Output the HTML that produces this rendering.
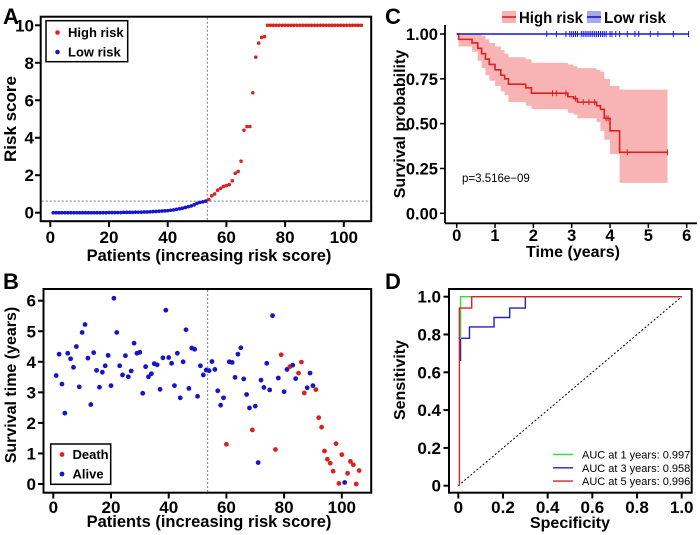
<!DOCTYPE html>
<html><head><meta charset="utf-8"><style>
html,body{margin:0;padding:0;background:#fff;}
svg{display:block;font-family:"Liberation Sans",Arial,sans-serif;}
.b{font-weight:bold;}
</style></head><body>
<svg id="fig" width="700" height="535" viewBox="0 0 700 535" xmlns="http://www.w3.org/2000/svg"></svg>
<script>
// ---------- Panel A data ----------
const riskLow = [0,0,0,0,0,0,0,0,0,0,0,0,0,0,0,0,0,0,0,0.01,0.01,0.01,0.01,0.01,0.02,0.02,0.02,0.02,0.03,0.03,0.03,0.04,0.04,0.05,0.06,0.07,0.08,0.09,0.1,0.11,0.13,0.15,0.18,0.21,0.24,0.28,0.32,0.36,0.42,0.5,0.55,0.58,0.62];
const riskHigh = [0.7,0.9,1.0,1.2,1.3,1.4,1.45,1.5,1.7,2.1,2.2,2.75,4.4,4.6,4.6,6.4,8.3,9.05,9.35,9.4,10,10,10,10,10,10,10,10,10,10,10,10,10,10,10,10,10,10,10,10,10,10,10,10,10,10,10,10,10,10,10,10,10];
const riskCutoff = 0.62;
const aXTicks = [0,20,40,60,80,100];
const aYTicks = [0,2,4,6,8,10];
// ---------- Panel B data ----------
const survTime = [3.55,4.25,3.27,2.32,4.28,4.1,3.82,4.5,3.18,4.96,5.22,4.12,2.6,4.3,3.72,3.17,3.66,3.87,4.21,3.22,6.08,4.96,3.87,3.57,4.2,3.51,3.7,4.61,4.28,4.31,2.97,3.84,3.51,3.61,3.94,3.9,3.1,4.13,5.69,4.14,3.95,3.22,4.28,2.82,4.0,5.05,3.13,4.45,4.41,2.87,3.87,3.57,3.73,3.71,4.01,3.75,3.05,2.58,2.82,1.3,4.0,3.98,3.49,4.25,4.46,3.44,2.93,2.49,1.77,2.55,0.7,3.4,3.16,3.95,3.08,5.51,1.13,3.47,4.23,3.02,3.75,3.84,3.89,3.45,3.63,3.99,2.98,3.15,3.63,3.22,3.09,2.17,1.86,1.08,0.81,0.68,0.42,1.32,0.02,0.96,0.05,0.35,0.74,0.63,0.0,0.44];
const survDead = [0,0,0,0,0,0,0,0,0,0,0,0,0,0,0,0,0,0,0,0,0,0,0,0,0,0,0,0,0,0,0,0,0,0,0,0,0,0,0,0,0,0,0,0,0,0,0,0,0,0,0,0,0,0,0,0,0,0,0,1,0,0,0,0,0,0,0,0,1,0,0,0,0,0,0,0,1,0,1,0,0,1,0,0,1,1,1,0,0,0,1,1,1,1,1,1,1,1,1,1,0,1,1,1,1,1];
const bXTicks = [0,20,40,60,80,100];
const bYTicks = [0,1,2,3,4,5,6];
// ---------- Panel C data ----------
const kmTime =  [0,0.05,0.4,0.55,0.65,0.75,0.85,1.0,1.15,1.25,1.35,1.8,1.95,2.9,3.05,3.15,3.65,3.75,3.85,4.0,4.25];
const kmSurv =  [1,0.97,0.95,0.92,0.89,0.86,0.83,0.80,0.77,0.75,0.72,0.70,0.67,0.65,0.64,0.62,0.60,0.58,0.53,0.46,0.34];
const kmUpper = [1,1,1,1,0.99,0.97,0.95,0.93,0.91,0.89,0.87,0.86,0.84,0.83,0.82,0.81,0.80,0.79,0.75,0.71,0.69];
const kmLower = [1,0.93,0.90,0.85,0.81,0.77,0.74,0.71,0.68,0.66,0.62,0.60,0.58,0.56,0.55,0.53,0.51,0.46,0.41,0.33,0.17];
const kmEnd = 5.5;
const highCensor = [2.5,2.6,2.85,3.1,3.3,3.45,3.6,3.9,3.95,4.45,5.5];
const lowCensor = [2.35,2.6,2.85,2.95,3.0,3.05,3.1,3.15,3.25,3.3,3.35,3.4,3.45,3.5,3.55,3.6,3.65,3.7,3.75,3.8,3.85,3.9,4.0,4.05,4.15,4.25,4.45,4.65,4.75,5.05,5.25,5.65,6.05];
const lowEnd = 6.05;
const cXTicks = [0,1,2,3,4,5,6];
const cYTicks = [0,0.25,0.5,0.75,1];
// ---------- Panel D data ----------
const roc1X = [0,0.01,0.01,0.065,1];
const roc1Y = [0.78,0.78,1,1,1];
const roc3X = [0.01,0.01,0.05,0.05,0.16,0.16,0.23,0.23,0.30,0.30,1];
const roc3Y = [0.66,0.78,0.78,0.84,0.84,0.89,0.89,0.94,0.94,1,1];
const roc5X = [0.005,0.005,0.06,0.06,1];
const roc5Y = [0,0.94,0.94,1,1];
const rocLabels = ["AUC at 1 years: 0.997","AUC at 3 years: 0.958","AUC at 5 years: 0.996"];
const rocColors = ["#33dd33","#2020cc","#dd2020"];
const dTicks = [0,0.2,0.4,0.6,0.8,1.0];

const NS="http://www.w3.org/2000/svg";
const fig=document.getElementById('fig');
function mk(tag,attrs,parent,text){const e=document.createElementNS(NS,tag);for(const k in attrs)e.setAttribute(k,attrs[k]);if(text!==undefined)e.textContent=text;(parent||fig).appendChild(e);return e;}
function grp(){return mk('g',{});}

// ================= Panel A =================
const ax=p=>50.3+2.935*p, ay=v=>212.7-18.74*v;
let g=grp();


let t=mk('text',{x:3,y:24,'font-size':22,class:'b'},g,'A');


let r=mk('rect',{x:40.7,y:16.7,width:330.5,height:204.5,fill:'none',stroke:'#000','stroke-width':2},g);


aYTicks.forEach(v=>{
  let l=mk('line',{x1:35,x2:40.7,y1:ay(v),y2:ay(v),stroke:'#000','stroke-width':2},g);
  
  
  let tx=mk('text',{x:34,y:ay(v)+6,'font-size':17,'text-anchor':'end',class:'b'},g,String(v));
  
  
});
aXTicks.forEach(v=>{
  let l=mk('line',{x1:ax(v),x2:ax(v),y1:221.2,y2:227,stroke:'#000','stroke-width':2},g);
  
  
  let tx=mk('text',{x:ax(v),y:243,'font-size':17,'text-anchor':'middle',class:'b'},g,String(v));
  
  
});
let cutX=ax(riskLow.length+0.5);
let dl=mk('line',{x1:cutX,x2:cutX,y1:17.7,y2:220.2,stroke:'#777','stroke-width':1,'stroke-dasharray':'2,2'},g);


dl=mk('line',{x1:41.7,x2:370.2,y1:ay(riskCutoff),y2:ay(riskCutoff),stroke:'#777','stroke-width':1,'stroke-dasharray':'2,2'},g);


riskLow.forEach((v,i)=>{
  let c=mk('circle',{cx:ax(i+1),cy:ay(v),r:1.8,fill:'#1515cc'},g);
  
  
});
riskHigh.forEach((v,i)=>{
  let c=mk('circle',{cx:ax(riskLow.length+i+1),cy:ay(v),r:1.8,fill:'#dd2020'},g);
  
  
});
let lg=mk('rect',{x:46,y:20.7,width:81.7,height:41,fill:'#fff',stroke:'#000','stroke-width':1.5},g);


[['High risk','#dd2020',32.5],['Low risk','#1515cc',52]].forEach(([lab,col,y])=>{
  let c=mk('circle',{cx:57.5,cy:y,r:2.3,fill:col},g);
  
  
  let tx=mk('text',{x:68,y:y+4.5,'font-size':13,class:'b'},g,lab);
  
  
});
t=mk('text',{x:16,y:119,'font-size':17,'text-anchor':'middle',class:'b',transform:'rotate(-90 16 119)'},g,'Risk score');


t=mk('text',{x:209,y:261,'font-size':16.5,'text-anchor':'middle',class:'b'},g,'Patients (increasing risk score)');



// ================= Panel B =================
const bx=p=>53.3+2.885*p, by=v=>484-30.55*v;
g=grp();


t=mk('text',{x:3,y:289,'font-size':22,class:'b'},g,'B');


r=mk('rect',{x:43.5,y:289,width:327.7,height:203.7,fill:'none',stroke:'#000','stroke-width':2},g);


bYTicks.forEach(v=>{
  let l=mk('line',{x1:38,x2:43.5,y1:by(v),y2:by(v),stroke:'#000','stroke-width':2},g);
  
  
  let tx=mk('text',{x:36,y:by(v)+6,'font-size':17,'text-anchor':'end',class:'b'},g,String(v));
  
  
});
bXTicks.forEach(v=>{
  let l=mk('line',{x1:bx(v),x2:bx(v),y1:492.7,y2:498.5,stroke:'#000','stroke-width':2},g);
  
  
  let tx=mk('text',{x:bx(v),y:513,'font-size':17,'text-anchor':'middle',class:'b'},g,String(v));
  
  
});
cutX=bx(riskLow.length+0.5);
dl=mk('line',{x1:cutX,x2:cutX,y1:290,y2:491.7,stroke:'#777','stroke-width':1,'stroke-dasharray':'2,2'},g);


survTime.forEach((v,i)=>{
  let c=mk('circle',{cx:bx(i+1),cy:by(v),r:2.4,fill:survDead[i]?'#dd2020':'#1515cc'},g);
  
  
});
lg=mk('rect',{x:50.7,y:444,width:60,height:40.3,fill:'#fff',stroke:'#000','stroke-width':1.5},g);


[['Death','#dd2020',454.5],['Alive','#1515cc',474]].forEach(([lab,col,y])=>{
  let c=mk('circle',{cx:62,cy:y,r:2.4,fill:col},g);
  
  
  let tx=mk('text',{x:72.5,y:y+4.5,'font-size':13,class:'b'},g,lab);
  
  
});
t=mk('text',{x:16,y:385,'font-size':16,'text-anchor':'middle',class:'b',transform:'rotate(-90 16 385)'},g,'Survival time (years)');


t=mk('text',{x:209,y:527,'font-size':16.5,'text-anchor':'middle',class:'b'},g,'Patients (increasing risk score)');



// ================= Panel C =================
const cx=v=>456.7+38.33*v, cy=v=>213.3-179.3*v;
g=grp();


t=mk('text',{x:385,y:24,'font-size':22,class:'b'},g,'C');


let pts=[];
for(let i=0;i<kmTime.length;i++){const x0=cx(kmTime[i]),x1=cx(i<kmTime.length-1?kmTime[i+1]:kmEnd);pts.push(x0+','+cy(kmUpper[i]),x1+','+cy(kmUpper[i]));}
for(let i=kmTime.length-1;i>=0;i--){const x0=cx(kmTime[i]),x1=cx(i<kmTime.length-1?kmTime[i+1]:kmEnd);pts.push(x1+','+cy(kmLower[i]),x0+','+cy(kmLower[i]));}
let band=mk('polygon',{points:pts.join(' '),fill:'#f8b4b4'},g);


let d='M'+cx(kmTime[0])+','+cy(kmSurv[0]);
for(let i=1;i<kmTime.length;i++){d+=' H'+cx(kmTime[i])+' V'+cy(kmSurv[i]);}
d+=' H'+cx(kmEnd);
let p=mk('path',{d:d,fill:'none',stroke:'#dd2020','stroke-width':1.6},g);


function kmAt(tt){let s=kmSurv[0];for(let i=0;i<kmTime.length;i++)if(kmTime[i]<=tt)s=kmSurv[i];return s;}
highCensor.forEach(tt=>{
  let l=mk('line',{x1:cx(tt),x2:cx(tt),y1:cy(kmAt(tt))-3,y2:cy(kmAt(tt))+3,stroke:'#dd2020','stroke-width':1},g);
  
  
});
p=mk('line',{x1:cx(0),x2:cx(lowEnd),y1:cy(1),y2:cy(1),stroke:'#1515dd','stroke-width':1.6},g);


lowCensor.forEach(tt=>{
  let l=mk('line',{x1:cx(tt),x2:cx(tt),y1:cy(1)-3,y2:cy(1)+3,stroke:'#1515dd','stroke-width':1},g);
  
  
});
let ax1=mk('line',{x1:445,x2:445,y1:25,y2:223.3,stroke:'#000','stroke-width':1.8},g);


ax1=mk('line',{x1:445,x2:697,y1:223.3,y2:223.3,stroke:'#000','stroke-width':1.8},g);


cYTicks.forEach(v=>{
  let l=mk('line',{x1:440,x2:445,y1:cy(v),y2:cy(v),stroke:'#000','stroke-width':1.5},g);
  
  
  let tx=mk('text',{x:438,y:cy(v)+6,'font-size':16.5,'text-anchor':'end',class:'b'},g,v.toFixed(2));
  
  
});
cXTicks.forEach(v=>{
  let l=mk('line',{x1:cx(v),x2:cx(v),y1:223.3,y2:228,stroke:'#000','stroke-width':1.5},g);
  
  
  let tx=mk('text',{x:cx(v),y:241,'font-size':16.5,'text-anchor':'middle',class:'b'},g,String(v));
  
  
});
t=mk('text',{x:462,y:182,'font-size':11.5},g,'p=3.516e−09');


t=mk('text',{x:405,y:124,'font-size':16,'text-anchor':'middle',class:'b',transform:'rotate(-90 405 124)'},g,'Survival probability');


t=mk('text',{x:573,y:257,'font-size':16,'text-anchor':'middle',class:'b'},g,'Time (years)');


[['High risk','#f8b4b4','#dd2020',502,519,64],['Low risk','#a8a8f0','#1515dd',587,604,62]].forEach(([lab,fill,col,sx,tx0,tw])=>{
  let s=mk('rect',{x:sx,y:11,width:14,height:12,fill:fill},g);
  
  
  let l=mk('line',{x1:sx,x2:sx+14,y1:17,y2:17,stroke:col,'stroke-width':1.6},g);
  
  
  let tx=mk('text',{x:tx0,y:23,'font-size':16,class:'b',textLength:tw,lengthAdjust:'spacingAndGlyphs'},g,lab);
  
  
});

// ================= Panel D =================
const dx=v=>458.3+223.4*v, dy=v=>485.7-189*v;
g=grp();


t=mk('text',{x:385,y:289,'font-size':22,class:'b'},g,'D');


let diag=mk('line',{x1:dx(0),y1:dy(0),x2:dx(1),y2:dy(1),stroke:'#000','stroke-width':1,'stroke-dasharray':'2,2'},g);


[[roc3X,roc3Y,rocColors[1],'roc-3-years'],[roc1X,roc1Y,rocColors[0],'roc-1-year'],[roc5X,roc5Y,rocColors[2],'roc-5-years']].forEach(([xs,ys,col,nm])=>{
  let pp=xs.map((x,i)=>dx(x)+','+dy(ys[i])).join(' ');
  let pl=mk('polyline',{points:pp,fill:'none',stroke:col,'stroke-width':1.4},g);
  
  
});
r=mk('rect',{x:449,y:289,width:242.7,height:203.7,fill:'none',stroke:'#000','stroke-width':2},g);


dTicks.forEach(v=>{
  let l=mk('line',{x1:443.5,x2:449,y1:dy(v),y2:dy(v),stroke:'#000','stroke-width':2},g);
  
  
  let tx=mk('text',{x:441,y:dy(v)+6,'font-size':17,'text-anchor':'end',class:'b'},g,v===0?'0':v.toFixed(1));
  
  
  let l2=mk('line',{x1:dx(v),x2:dx(v),y1:492.7,y2:498.5,stroke:'#000','stroke-width':2},g);
  
  
  let tx2=mk('text',{x:dx(v),y:513,'font-size':17,'text-anchor':'middle',class:'b'},g,v===0?'0':v.toFixed(1));
  
  
});
rocLabels.forEach((lab,i)=>{
  const y=454.5+13.3*i;
  let l=mk('line',{x1:553,x2:573,y1:y,y2:y,stroke:rocColors[i],'stroke-width':1.4},g);
  
  
  let tx=mk('text',{x:582,y:y+4,'font-size':11},g,lab);
  
  
});
t=mk('text',{x:405,y:380,'font-size':16,'text-anchor':'middle',class:'b',transform:'rotate(-90 405 380)'},g,'Sensitivity');


t=mk('text',{x:570,y:528,'font-size':16,'text-anchor':'middle',class:'b'},g,'Specificity');


</script>
</body></html>
